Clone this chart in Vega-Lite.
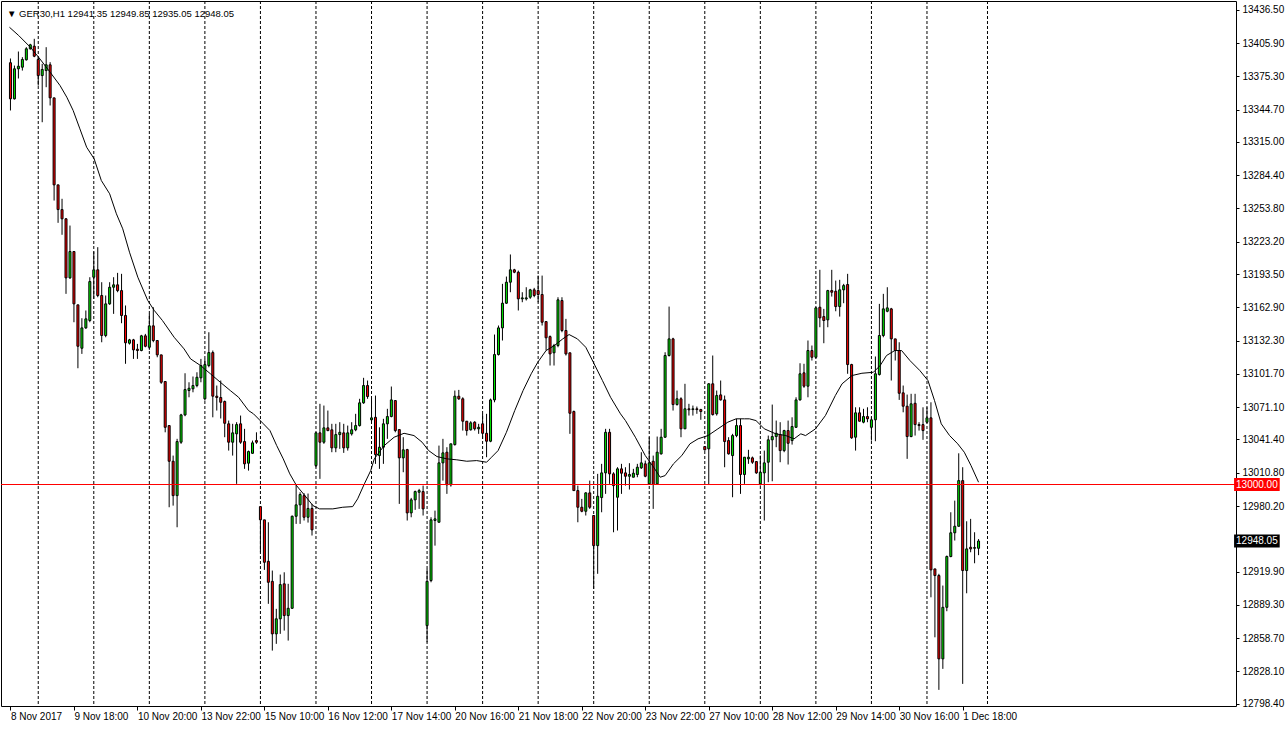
{
"$schema": "https://vega.github.io/schema/vega-lite/v6.json",
"width": 1235, "height": 705,
"autosize": {"type": "none"},
"padding": {"left": 1, "top": 1, "right": 51, "bottom": 23},
"background": "white",
"config": {
 "view": {"stroke": "black", "strokeWidth": 1},
 "font": "Liberation Sans",
 "axis": {"grid": false, "domain": false, "labelFont": "Liberation Sans", "labelFontSize": 10, "labelColor": "black", "tickColor": "black", "labelOverlap": false, "labelFlush": false, "title": null}
},
"title": {"text": "▼ GER30,H1  12941.35 12949.85 12935.05 12948.05", "anchor": "start", "frame": "group", "orient": "top", "offset": -26, "dx": 6, "baseline": "alphabetic", "font": "Liberation Sans", "fontSize": 9.5, "fontWeight": "normal", "color": "black"},
"datasets": {
 "grid": [{"i":7},{"i":21},{"i":35},{"i":49},{"i":63},{"i":77},{"i":91},{"i":105},{"i":119},{"i":133},{"i":147},{"i":161},{"i":175},{"i":189},{"i":203},{"i":217},{"i":231},{"i":246.25}],
 "tags": [{"v":13000,"kind":"line"},{"v":12948.05,"kind":"last"}],
 "candles": [
{"i":0,"o":13387.8,"h":13391.7,"l":13343.9,"c":13354.6},
{"i":1,"o":13354.6,"h":13385.2,"l":13354.0,"c":13382.2},
{"i":2,"o":13382.2,"h":13398.1,"l":13373.3,"c":13384.6},
{"i":3,"o":13383.7,"h":13392.9,"l":13380.6,"c":13390.8},
{"i":4,"o":13390.5,"h":13402.1,"l":13389.8,"c":13400.6},
{"i":5,"o":13400.6,"h":13405.2,"l":13399.9,"c":13404.3},
{"i":6,"o":13403.0,"h":13409.8,"l":13392.9,"c":13393.8},
{"i":7,"o":13390.8,"h":13392.9,"l":13366.8,"c":13376.0},
{"i":8,"o":13376.0,"h":13386.8,"l":13333.1,"c":13381.6},
{"i":9,"o":13380.6,"h":13402.1,"l":13365.3,"c":13385.9},
{"i":10,"o":13385.9,"h":13388.3,"l":13348.5,"c":13355.5},
{"i":11,"o":13355.5,"h":13355.5,"l":13261.1,"c":13275.5},
{"i":12,"o":13275.5,"h":13275.5,"l":13240.6,"c":13252.8},
{"i":13,"o":13252.8,"h":13262.7,"l":13229.6,"c":13244.3},
{"i":14,"o":13244.3,"h":13244.8,"l":13175.3,"c":13190.0},
{"i":15,"o":13190.0,"h":13238.1,"l":13189.1,"c":13214.2},
{"i":16,"o":13214.2,"h":13214.2,"l":13149.2,"c":13166.1},
{"i":17,"o":13165.2,"h":13165.2,"l":13106.9,"c":13127.1},
{"i":18,"o":13125.3,"h":13152.9,"l":13120.1,"c":13144.0},
{"i":19,"o":13144.0,"h":13160.0,"l":13143.1,"c":13152.3},
{"i":20,"o":13150.8,"h":13190.6,"l":13149.2,"c":13186.6},
{"i":21,"o":13190.6,"h":13214.2,"l":13170.7,"c":13197.4},
{"i":22,"o":13197.4,"h":13218.2,"l":13172.2,"c":13173.8},
{"i":23,"o":13173.8,"h":13186.0,"l":13130.8,"c":13137.0},
{"i":24,"o":13137.0,"h":13173.8,"l":13135.4,"c":13166.1},
{"i":25,"o":13166.1,"h":13186.0,"l":13165.2,"c":13181.4},
{"i":26,"o":13181.4,"h":13190.6,"l":13156.9,"c":13183.6},
{"i":27,"o":13183.6,"h":13194.6,"l":13176.8,"c":13178.3},
{"i":28,"o":13178.3,"h":13193.7,"l":13148.3,"c":13155.4},
{"i":29,"o":13155.4,"h":13164.6,"l":13111.0,"c":13130.3},
{"i":30,"o":13129.9,"h":13133.9,"l":13128.7,"c":13133.0},
{"i":31,"o":13133.0,"h":13133.9,"l":13115.5,"c":13123.8},
{"i":32,"o":13124.4,"h":13129.3,"l":13115.5,"c":13123.2},
{"i":33,"o":13123.2,"h":13137.6,"l":13122.5,"c":13136.7},
{"i":34,"o":13136.7,"h":13138.5,"l":13126.2,"c":13127.1},
{"i":35,"o":13126.2,"h":13156.9,"l":13123.8,"c":13145.9},
{"i":36,"o":13145.9,"h":13163.0,"l":13130.8,"c":13132.4},
{"i":37,"o":13132.4,"h":13132.4,"l":13117.0,"c":13119.2},
{"i":38,"o":13119.2,"h":13119.2,"l":13092.6,"c":13094.0},
{"i":39,"o":13094.7,"h":13094.7,"l":13048.0,"c":13052.6},
{"i":40,"o":13054.2,"h":13054.2,"l":12979.1,"c":13021.4},
{"i":41,"o":13021.4,"h":13026.6,"l":12980.6,"c":12989.8},
{"i":42,"o":12989.8,"h":13042.0,"l":12960.7,"c":13039.5},
{"i":43,"o":13038.9,"h":13065.0,"l":13037.4,"c":13064.0},
{"i":44,"o":13064.0,"h":13102.3,"l":13062.8,"c":13087.3},
{"i":45,"o":13086.4,"h":13094.0,"l":13080.2,"c":13088.5},
{"i":46,"o":13088.0,"h":13099.3,"l":13084.8,"c":13091.0},
{"i":47,"o":13091.0,"h":13103.2,"l":13089.4,"c":13098.6},
{"i":48,"o":13098.1,"h":13115.5,"l":13094.0,"c":13109.4},
{"i":49,"o":13078.8,"h":13115.5,"l":13077.2,"c":13110.3},
{"i":50,"o":13109.4,"h":13140.0,"l":13107.8,"c":13121.3},
{"i":51,"o":13121.3,"h":13123.2,"l":13061.8,"c":13081.2},
{"i":52,"o":13081.2,"h":13091.0,"l":13068.0,"c":13080.0},
{"i":53,"o":13080.0,"h":13095.6,"l":13060.7,"c":13075.6},
{"i":54,"o":13076.3,"h":13077.2,"l":13043.5,"c":13056.3},
{"i":55,"o":13055.8,"h":13058.8,"l":13031.2,"c":13038.9},
{"i":56,"o":13038.9,"h":13055.8,"l":13026.6,"c":13047.5},
{"i":57,"o":13046.6,"h":13057.3,"l":13000.6,"c":13055.1},
{"i":58,"o":13055.8,"h":13063.4,"l":13037.4,"c":13038.9},
{"i":59,"o":13039.5,"h":13051.2,"l":13014.4,"c":13019.0},
{"i":60,"o":13019.6,"h":13031.2,"l":13012.8,"c":13030.3},
{"i":61,"o":13028.7,"h":13040.4,"l":13028.2,"c":13038.3},
{"i":62,"o":13040.4,"h":13048.0,"l":13037.4,"c":13038.9},
{"i":63,"o":12979.7,"h":12979.7,"l":12937.7,"c":12967.5},
{"i":64,"o":12967.5,"h":12967.5,"l":12921.5,"c":12928.5},
{"i":65,"o":12929.4,"h":12965.3,"l":12890.3,"c":12910.1},
{"i":66,"o":12911.0,"h":12920.9,"l":12847.3,"c":12862.7},
{"i":67,"o":12862.7,"h":12885.7,"l":12853.5,"c":12876.5},
{"i":68,"o":12876.5,"h":12917.2,"l":12862.7,"c":12908.0},
{"i":69,"o":12908.7,"h":12919.3,"l":12865.7,"c":12879.5},
{"i":70,"o":12879.5,"h":12908.7,"l":12856.5,"c":12886.2},
{"i":71,"o":12886.2,"h":12971.5,"l":12885.7,"c":12970.8},
{"i":72,"o":12970.8,"h":12999.7,"l":12963.8,"c":12981.3},
{"i":73,"o":12981.3,"h":12992.9,"l":12963.8,"c":12990.8},
{"i":74,"o":12989.8,"h":12992.0,"l":12966.9,"c":12969.9},
{"i":75,"o":12969.9,"h":12991.7,"l":12965.0,"c":12978.0},
{"i":76,"o":12978.0,"h":12982.2,"l":12953.1,"c":12958.3},
{"i":77,"o":13017.4,"h":13048.0,"l":13015.9,"c":13047.5},
{"i":78,"o":13047.5,"h":13074.2,"l":13005.2,"c":13038.9},
{"i":79,"o":13038.9,"h":13072.6,"l":13037.4,"c":13052.1},
{"i":80,"o":13052.1,"h":13068.0,"l":13049.0,"c":13049.6},
{"i":81,"o":13050.3,"h":13055.8,"l":13029.7,"c":13033.7},
{"i":82,"o":13033.7,"h":13055.8,"l":13029.7,"c":13045.9},
{"i":83,"o":13045.9,"h":13057.3,"l":13032.8,"c":13048.0},
{"i":84,"o":13047.5,"h":13055.8,"l":13029.1,"c":13033.7},
{"i":85,"o":13033.7,"h":13054.2,"l":13031.2,"c":13047.5},
{"i":86,"o":13046.6,"h":13057.3,"l":13045.0,"c":13050.3},
{"i":87,"o":13050.3,"h":13065.0,"l":13049.0,"c":13054.2},
{"i":88,"o":13054.2,"h":13078.8,"l":13053.3,"c":13075.1},
{"i":89,"o":13075.1,"h":13098.1,"l":13074.2,"c":13091.0},
{"i":90,"o":13091.0,"h":13095.6,"l":13078.8,"c":13080.9},
{"i":91,"o":13059.5,"h":13079.0,"l":13057.0,"c":13061.3},
{"i":92,"o":13061.8,"h":13081.8,"l":13019.0,"c":13027.5},
{"i":93,"o":13026.6,"h":13052.6,"l":13014.4,"c":13034.3},
{"i":94,"o":13034.3,"h":13060.4,"l":13019.0,"c":13055.8},
{"i":95,"o":13055.8,"h":13069.6,"l":13042.0,"c":13062.5},
{"i":96,"o":13062.5,"h":13090.1,"l":13061.8,"c":13077.8},
{"i":97,"o":13077.2,"h":13077.2,"l":13048.0,"c":13049.6},
{"i":98,"o":13050.5,"h":13050.5,"l":12982.2,"c":13024.5},
{"i":99,"o":13024.5,"h":13043.5,"l":13011.3,"c":13031.9},
{"i":100,"o":13032.1,"h":13032.8,"l":12966.9,"c":12973.9},
{"i":101,"o":12973.9,"h":12987.7,"l":12969.9,"c":12985.9},
{"i":102,"o":12985.9,"h":12994.4,"l":12976.7,"c":12993.5},
{"i":103,"o":12992.9,"h":12996.0,"l":12977.6,"c":12994.4},
{"i":104,"o":12993.5,"h":12999.0,"l":12971.5,"c":12977.6},
{"i":105,"o":12870.3,"h":12922.4,"l":12855.0,"c":12911.0},
{"i":106,"o":12911.7,"h":12969.9,"l":12910.1,"c":12967.5},
{"i":107,"o":12966.9,"h":12976.0,"l":12943.8,"c":12968.4},
{"i":108,"o":12965.3,"h":13035.8,"l":12965.3,"c":13019.9},
{"i":109,"o":13019.9,"h":13042.0,"l":13003.6,"c":13029.1},
{"i":110,"o":13029.7,"h":13034.3,"l":12991.4,"c":12999.7},
{"i":111,"o":12999.7,"h":13037.4,"l":12998.1,"c":13037.4},
{"i":112,"o":13036.7,"h":13086.4,"l":13035.8,"c":13081.2},
{"i":113,"o":13081.2,"h":13087.0,"l":13077.8,"c":13078.8},
{"i":114,"o":13078.8,"h":13080.2,"l":13049.6,"c":13058.2},
{"i":115,"o":13058.2,"h":13058.2,"l":13045.0,"c":13049.6},
{"i":116,"o":13050.3,"h":13058.2,"l":13049.6,"c":13056.7},
{"i":117,"o":13057.3,"h":13058.2,"l":13049.6,"c":13051.2},
{"i":118,"o":13051.2,"h":13055.8,"l":13046.6,"c":13052.6},
{"i":119,"o":13055.8,"h":13065.0,"l":13042.0,"c":13047.1},
{"i":120,"o":13047.1,"h":13065.0,"l":13025.1,"c":13039.8},
{"i":121,"o":13039.8,"h":13079.0,"l":13038.9,"c":13077.8},
{"i":122,"o":13077.8,"h":13137.9,"l":13075.6,"c":13119.5},
{"i":123,"o":13119.5,"h":13146.2,"l":13118.6,"c":13144.0},
{"i":124,"o":13144.0,"h":13184.5,"l":13132.4,"c":13166.7},
{"i":125,"o":13166.7,"h":13191.2,"l":13166.1,"c":13186.0},
{"i":126,"o":13186.0,"h":13211.5,"l":13176.8,"c":13197.4},
{"i":127,"o":13197.4,"h":13198.3,"l":13194.3,"c":13195.2},
{"i":128,"o":13195.2,"h":13196.7,"l":13160.0,"c":13170.7},
{"i":129,"o":13170.7,"h":13176.8,"l":13167.6,"c":13171.6},
{"i":130,"o":13170.7,"h":13181.4,"l":13169.2,"c":13171.6},
{"i":131,"o":13172.2,"h":13179.9,"l":13170.7,"c":13179.0},
{"i":132,"o":13179.0,"h":13180.8,"l":13172.2,"c":13173.8},
{"i":133,"o":13178.3,"h":13192.1,"l":13167.6,"c":13174.7},
{"i":134,"o":13174.7,"h":13192.1,"l":13146.2,"c":13149.2},
{"i":135,"o":13149.8,"h":13149.8,"l":13123.2,"c":13134.9},
{"i":136,"o":13136.0,"h":13137.0,"l":13109.4,"c":13120.1},
{"i":137,"o":13121.1,"h":13129.3,"l":13109.4,"c":13127.8},
{"i":138,"o":13127.8,"h":13172.2,"l":13126.2,"c":13169.8},
{"i":139,"o":13169.2,"h":13172.2,"l":13140.0,"c":13141.6},
{"i":140,"o":13141.6,"h":13152.3,"l":13118.6,"c":13120.1},
{"i":141,"o":13121.1,"h":13121.1,"l":13046.6,"c":13065.5},
{"i":142,"o":13067.1,"h":13068.0,"l":12994.4,"c":12994.4},
{"i":143,"o":12994.4,"h":12999.0,"l":12965.3,"c":12979.1},
{"i":144,"o":12979.1,"h":12986.8,"l":12974.5,"c":12975.4},
{"i":145,"o":12975.4,"h":12992.9,"l":12971.5,"c":12992.3},
{"i":146,"o":12992.3,"h":13003.6,"l":12977.6,"c":12979.1},
{"i":147,"o":12971.5,"h":12971.5,"l":12904.1,"c":12943.8},
{"i":148,"o":12943.8,"h":13009.8,"l":12917.9,"c":12989.2},
{"i":149,"o":12988.0,"h":13019.0,"l":12974.5,"c":13010.7},
{"i":150,"o":13010.7,"h":13051.2,"l":12991.4,"c":13048.0},
{"i":151,"o":13048.0,"h":13051.2,"l":13000.6,"c":13009.8},
{"i":152,"o":13009.8,"h":13011.3,"l":12956.1,"c":12999.0},
{"i":153,"o":12988.3,"h":13015.9,"l":12957.7,"c":13014.4},
{"i":154,"o":13014.4,"h":13019.0,"l":12991.4,"c":13010.4},
{"i":155,"o":13010.7,"h":13015.9,"l":12999.0,"c":13007.6},
{"i":156,"o":13007.6,"h":13019.6,"l":12995.4,"c":13009.2},
{"i":157,"o":13006.7,"h":13014.4,"l":13006.7,"c":13010.4},
{"i":158,"o":13009.2,"h":13019.0,"l":13006.7,"c":13015.9},
{"i":159,"o":13015.3,"h":13029.7,"l":13014.4,"c":13019.9},
{"i":160,"o":13019.0,"h":13022.0,"l":13006.7,"c":13007.6},
{"i":161,"o":13000.6,"h":13043.5,"l":13000.0,"c":13019.9},
{"i":162,"o":13021.4,"h":13026.6,"l":12977.6,"c":13000.0},
{"i":163,"o":13000.6,"h":13044.1,"l":13000.0,"c":13029.7},
{"i":164,"o":13028.2,"h":13051.2,"l":13027.5,"c":13043.5},
{"i":165,"o":13043.5,"h":13121.6,"l":13042.9,"c":13118.6},
{"i":166,"o":13118.6,"h":13163.6,"l":13117.7,"c":13133.9},
{"i":167,"o":13133.9,"h":13134.9,"l":13068.0,"c":13073.5},
{"i":168,"o":13073.5,"h":13086.4,"l":13072.6,"c":13078.8},
{"i":169,"o":13078.8,"h":13080.2,"l":13043.5,"c":13051.2},
{"i":170,"o":13051.2,"h":13092.6,"l":13051.2,"c":13069.6},
{"i":171,"o":13069.6,"h":13074.2,"l":13063.4,"c":13068.7},
{"i":172,"o":13068.9,"h":13072.6,"l":13063.4,"c":13069.6},
{"i":173,"o":13069.6,"h":13071.7,"l":13065.0,"c":13068.9},
{"i":174,"o":13068.9,"h":13069.6,"l":13059.5,"c":13067.1},
{"i":175,"o":13034.9,"h":13034.9,"l":13031.2,"c":13031.9},
{"i":176,"o":13032.8,"h":13093.1,"l":13000.0,"c":13092.6},
{"i":177,"o":13092.6,"h":13118.6,"l":13063.4,"c":13064.3},
{"i":178,"o":13065.0,"h":13086.4,"l":13063.4,"c":13081.8},
{"i":179,"o":13082.4,"h":13095.6,"l":13077.2,"c":13077.8},
{"i":180,"o":13077.8,"h":13081.8,"l":13015.9,"c":13039.5},
{"i":181,"o":13040.4,"h":13043.5,"l":13027.5,"c":13028.2},
{"i":182,"o":13026.6,"h":13046.6,"l":12988.3,"c":13045.0},
{"i":183,"o":13045.0,"h":13060.4,"l":13043.5,"c":13054.2},
{"i":184,"o":13054.2,"h":13060.4,"l":12991.4,"c":13009.2},
{"i":185,"o":13009.2,"h":13025.1,"l":13000.6,"c":13025.1},
{"i":186,"o":13023.6,"h":13031.9,"l":13019.0,"c":13025.1},
{"i":187,"o":13024.5,"h":13025.7,"l":13019.0,"c":13020.5},
{"i":188,"o":13021.1,"h":13021.1,"l":13009.8,"c":13010.7},
{"i":189,"o":13000.6,"h":13026.6,"l":12999.0,"c":13011.3},
{"i":190,"o":13010.7,"h":13031.2,"l":12966.9,"c":13019.9},
{"i":191,"o":13020.5,"h":13045.0,"l":13002.1,"c":13041.1},
{"i":192,"o":13041.1,"h":13073.5,"l":13003.0,"c":13044.1},
{"i":193,"o":13044.1,"h":13058.8,"l":13034.3,"c":13047.1},
{"i":194,"o":13045.9,"h":13057.3,"l":13020.5,"c":13031.2},
{"i":195,"o":13031.2,"h":13050.3,"l":13029.7,"c":13049.6},
{"i":196,"o":13049.6,"h":13058.8,"l":13018.4,"c":13037.9},
{"i":197,"o":13040.4,"h":13061.8,"l":13036.7,"c":13053.3},
{"i":198,"o":13052.6,"h":13080.2,"l":13052.1,"c":13077.8},
{"i":199,"o":13077.8,"h":13111.5,"l":13077.2,"c":13101.8},
{"i":200,"o":13102.7,"h":13111.0,"l":13088.9,"c":13090.4},
{"i":201,"o":13090.4,"h":13132.4,"l":13080.2,"c":13123.2},
{"i":202,"o":13123.2,"h":13127.8,"l":13114.0,"c":13117.0},
{"i":203,"o":13117.0,"h":13163.0,"l":13116.0,"c":13162.4},
{"i":204,"o":13163.0,"h":13197.4,"l":13144.6,"c":13153.2},
{"i":205,"o":13154.4,"h":13161.5,"l":13129.9,"c":13150.8},
{"i":206,"o":13151.4,"h":13179.0,"l":13144.6,"c":13178.3},
{"i":207,"o":13178.3,"h":13197.4,"l":13172.8,"c":13176.8},
{"i":208,"o":13177.7,"h":13187.5,"l":13159.3,"c":13163.6},
{"i":209,"o":13163.6,"h":13188.2,"l":13154.4,"c":13179.0},
{"i":210,"o":13179.0,"h":13184.5,"l":13166.7,"c":13182.9},
{"i":211,"o":13183.9,"h":13193.7,"l":13101.8,"c":13110.3},
{"i":212,"o":13110.3,"h":13111.0,"l":13042.0,"c":13042.9},
{"i":213,"o":13043.5,"h":13071.0,"l":13031.2,"c":13065.9},
{"i":214,"o":13065.9,"h":13071.0,"l":13057.9,"c":13058.2},
{"i":215,"o":13057.3,"h":13069.6,"l":13056.3,"c":13062.5},
{"i":216,"o":13062.5,"h":13071.0,"l":13057.3,"c":13060.4},
{"i":217,"o":13052.6,"h":13061.8,"l":13040.4,"c":13059.5},
{"i":218,"o":13059.5,"h":13117.7,"l":13039.8,"c":13101.8},
{"i":219,"o":13101.1,"h":13166.1,"l":13100.2,"c":13137.0},
{"i":220,"o":13137.0,"h":13175.3,"l":13135.4,"c":13161.5},
{"i":221,"o":13159.3,"h":13181.4,"l":13158.4,"c":13162.4},
{"i":222,"o":13161.5,"h":13162.4,"l":13095.6,"c":13133.9},
{"i":223,"o":13133.9,"h":13133.9,"l":13114.0,"c":13123.2},
{"i":224,"o":13123.2,"h":13130.8,"l":13077.8,"c":13083.9},
{"i":225,"o":13084.3,"h":13091.0,"l":13066.4,"c":13072.0},
{"i":226,"o":13072.0,"h":13082.7,"l":13023.6,"c":13044.1},
{"i":227,"o":13044.1,"h":13083.4,"l":13043.5,"c":13074.2},
{"i":228,"o":13074.7,"h":13083.4,"l":13045.0,"c":13055.1},
{"i":229,"o":13055.1,"h":13057.3,"l":13049.6,"c":13054.2},
{"i":230,"o":13055.1,"h":13071.0,"l":13041.1,"c":13049.6},
{"i":231,"o":13057.3,"h":13071.0,"l":13056.3,"c":13061.3},
{"i":232,"o":13061.3,"h":13075.6,"l":12896.3,"c":12921.5},
{"i":233,"o":12922.4,"h":12922.4,"l":12859.5,"c":12916.3},
{"i":234,"o":12916.3,"h":12917.9,"l":12811.2,"c":12839.7},
{"i":235,"o":12839.7,"h":12907.1,"l":12830.5,"c":12887.1},
{"i":236,"o":12887.1,"h":12934.7,"l":12883.5,"c":12933.8},
{"i":237,"o":12933.8,"h":12974.5,"l":12933.1,"c":12955.6},
{"i":238,"o":12955.6,"h":12985.2,"l":12948.5,"c":12961.6},
{"i":239,"o":12961.6,"h":13028.7,"l":12961.3,"c":13003.6},
{"i":240,"o":13003.6,"h":13015.9,"l":12816.7,"c":12920.9},
{"i":241,"o":12920.9,"h":12966.2,"l":12900.0,"c":12940.8},
{"i":242,"o":12942.3,"h":12968.4,"l":12937.7,"c":12940.8},
{"i":243,"o":12941.4,"h":12956.1,"l":12927.6,"c":12942.0},
{"i":244,"o":12941.35,"h":12949.85,"l":12935.05,"c":12948.05}
 ],
 "ma": [
{"i":-0.25,"v":13420.4},{"i":2.08,"v":13412.8},{"i":5,"v":13402.1},{"i":7.08,"v":13392.9},{"i":10,"v":13379.1},{"i":12.5,"v":13366.8},{"i":14.2,"v":13356.1},{"i":15.8,"v":13343.9},{"i":17.5,"v":13327.0},{"i":19.2,"v":13310.1},{"i":21.1,"v":13299.4},{"i":22.9,"v":13279.5},{"i":25,"v":13267.3},{"i":26.7,"v":13248.9},{"i":28.3,"v":13235.1},{"i":30,"v":13213.6},{"i":32.1,"v":13190.6},{"i":34.6,"v":13169.2},{"i":36.25,"v":13160.0},{"i":38.3,"v":13150.8},{"i":41.25,"v":13135.4},{"i":43.75,"v":13124.7},{"i":45.4,"v":13115.5},{"i":47.9,"v":13109.4},{"i":50.4,"v":13101.8},{"i":52.9,"v":13094.0},{"i":55.4,"v":13086.4},{"i":57.5,"v":13080.2},{"i":60,"v":13068.0},{"i":61.25,"v":13065.0},{"i":63.75,"v":13055.8},{"i":65.4,"v":13049.6},{"i":67.1,"v":13035.8},{"i":68.75,"v":13023.6},{"i":70.4,"v":13009.8},{"i":72.1,"v":12999.0},{"i":74.2,"v":12989.8},{"i":76.25,"v":12980.6},{"i":77.9,"v":12977.6},{"i":81.25,"v":12977.6},{"i":83.75,"v":12979.1},{"i":86.25,"v":12979.7},{"i":87.5,"v":12986.8},{"i":89.2,"v":13000.6},{"i":90.8,"v":13012.8},{"i":91.7,"v":13023.6},{"i":94.2,"v":13035.8},{"i":96.7,"v":13043.5},{"i":99.2,"v":13047.1},{"i":101.7,"v":13045.0},{"i":103.75,"v":13038.9},{"i":105.4,"v":13031.2},{"i":107.5,"v":13025.7},{"i":110,"v":13023.6},{"i":112.5,"v":13022.7},{"i":115,"v":13021.4},{"i":117.5,"v":13022.0},{"i":120,"v":13020.5},{"i":121.25,"v":13025.1},{"i":122.9,"v":13031.2},{"i":125,"v":13048.0},{"i":127.1,"v":13068.0},{"i":129.2,"v":13086.4},{"i":131.25,"v":13101.8},{"i":132.9,"v":13112.4},{"i":135,"v":13123.2},{"i":137.1,"v":13127.8},{"i":139.2,"v":13133.9},{"i":140.8,"v":13137.9},{"i":142.9,"v":13133.9},{"i":145,"v":13126.2},{"i":147.1,"v":13111.0},{"i":149.2,"v":13095.6},{"i":151.25,"v":13080.2},{"i":153.75,"v":13065.0},{"i":155,"v":13058.8},{"i":157.5,"v":13043.5},{"i":160,"v":13026.6},{"i":162.1,"v":13015.9},{"i":163.75,"v":13006.7},{"i":165,"v":13008.2},{"i":167.1,"v":13019.0},{"i":169.2,"v":13026.6},{"i":171.25,"v":13037.4},{"i":173.3,"v":13042.0},{"i":175.8,"v":13045.0},{"i":178.3,"v":13051.2},{"i":180.8,"v":13057.3},{"i":182.9,"v":13060.4},{"i":185,"v":13060.4},{"i":186.25,"v":13060.4},{"i":187.9,"v":13058.8},{"i":190,"v":13051.2},{"i":192.9,"v":13046.6},{"i":195.4,"v":13045.0},{"i":197.5,"v":13042.0},{"i":199.2,"v":13046.6},{"i":200.4,"v":13045.0},{"i":202.9,"v":13051.2},{"i":205.4,"v":13063.4},{"i":207.9,"v":13081.8},{"i":209.6,"v":13092.6},{"i":212.1,"v":13100.2},{"i":214.6,"v":13102.3},{"i":217.5,"v":13103.2},{"i":219.2,"v":13109.4},{"i":220.8,"v":13118.6},{"i":222.9,"v":13123.2},{"i":224.6,"v":13123.2},{"i":226.7,"v":13114.0},{"i":229.2,"v":13104.8},{"i":231.25,"v":13095.6},{"i":232.9,"v":13077.2},{"i":234.6,"v":13055.8},{"i":236.7,"v":13045.0},{"i":238.75,"v":13037.4},{"i":240.4,"v":13029.7},{"i":242.1,"v":13017.4},{"i":244,"v":13002.1}
 ]
},
"layer": [
 {"data": {"name": "grid"},
  "mark": {"type": "rule", "color": "black", "strokeWidth": 1, "strokeDash": [3, 2]},
  "encoding": {
   "x": {"field": "i", "type": "quantitative", "scale": {"domain": [-1.125, 307.625], "nice": false, "zero": false},
    "axis": {"values": [0,16,32,48,64,80,96,112,128,144,160,176,192,208,224,240], "tickCount": 40, "labelExpr": "['8 Nov 2017','9 Nov 18:00','10 Nov 20:00','13 Nov 22:00','15 Nov 10:00','16 Nov 12:00','17 Nov 14:00','20 Nov 16:00','21 Nov 18:00','22 Nov 20:00','23 Nov 22:00','27 Nov 10:00','28 Nov 12:00','29 Nov 14:00','30 Nov 16:00','1 Dec 18:00'][round(datum.value/16)]", "labelAlign": "left", "labelBaseline": "top", "tickSize": 4, "labelPadding": 1, "labelOverlap": false, "labelFlush": false, "title": null}}
  }},
 {"data": {"name": "candles"},
  "mark": {"type": "rule", "color": "black", "strokeWidth": 1},
  "encoding": {
   "x": {"field": "i", "type": "quantitative", "scale": {"domain": [-1.125, 307.625], "nice": false, "zero": false}},
   "y": {"field": "l", "type": "quantitative", "scale": {"domain": [12796.36, 13444.56], "nice": false, "zero": false},
    "axis": {"orient": "right", "values": [13436.5,13405.9,13375.3,13344.7,13315.0,13284.4,13253.8,13223.2,13193.5,13162.9,13132.3,13101.7,13071.1,13041.4,13010.8,12980.2,12919.9,12889.3,12858.7,12828.1,12798.4], "tickCount": 40, "format": ".2f", "tickSize": 3, "labelPadding": 3, "labelBaseline": "middle", "labelOverlap": false, "title": null}},
   "y2": {"field": "h"}
  }},
 {"data": {"name": "candles"},
  "mark": {"type": "bar", "orient": "vertical", "size": 2, "stroke": "black", "strokeWidth": 1},
  "encoding": {
   "x": {"field": "i", "type": "quantitative", "scale": {"domain": [-1.125, 307.625], "nice": false, "zero": false}},
   "y": {"field": "o", "type": "quantitative", "scale": {"domain": [12796.36, 13444.56], "nice": false, "zero": false}},
   "y2": {"field": "c"},
   "fill": {"condition": {"test": "datum.c >= datum.o", "value": "#00e600"}, "value": "#ff0000"}
  }},
 {"data": {"name": "ma"},
  "mark": {"type": "line", "color": "black", "strokeWidth": 1},
  "encoding": {
   "x": {"field": "i", "type": "quantitative", "scale": {"domain": [-1.125, 307.625], "nice": false, "zero": false}},
   "y": {"field": "v", "type": "quantitative", "scale": {"domain": [12796.36, 13444.56], "nice": false, "zero": false}}
  }},
 {"data": {"name": "tags"},
  "transform": [{"filter": "datum.kind == 'line'"}],
  "mark": {"type": "rule", "color": "#ff0000", "strokeWidth": 1},
  "encoding": {
   "y": {"field": "v", "type": "quantitative", "scale": {"domain": [12796.36, 13444.56], "nice": false, "zero": false}}
  }},
 {"data": {"name": "tags"},
  "mark": {"type": "rect", "yOffset": -6.5, "y2Offset": 6.5},
  "encoding": {
   "x": {"datum": 308.4, "type": "quantitative", "scale": {"domain": [-1.125, 307.625], "nice": false, "zero": false}},
   "x2": {"datum": 319.9},
   "y": {"field": "v", "type": "quantitative", "scale": {"domain": [12796.36, 13444.56], "nice": false, "zero": false}},
   "y2": {"field": "v"},
   "fill": {"condition": {"test": "datum.kind == 'line'", "value": "#ff0000"}, "value": "#000000"}
  }},
 {"data": {"name": "tags"},
  "mark": {"type": "text", "color": "white", "align": "center", "baseline": "middle", "font": "Liberation Sans", "fontSize": 10},
  "encoding": {
   "x": {"datum": 314.15, "type": "quantitative", "scale": {"domain": [-1.125, 307.625], "nice": false, "zero": false}},
   "y": {"field": "v", "type": "quantitative", "scale": {"domain": [12796.36, 13444.56], "nice": false, "zero": false}},
   "text": {"field": "v", "type": "quantitative", "format": ".2f"}
  }}
]
}
